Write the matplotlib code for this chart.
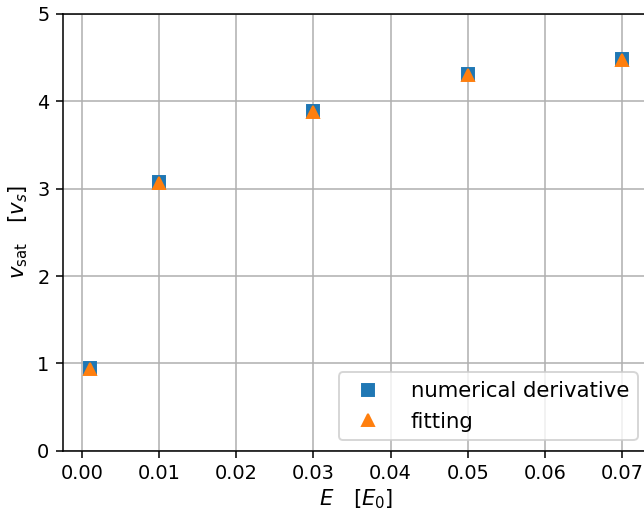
import matplotlib
matplotlib.use("Agg")
import matplotlib.pyplot as plt

E = [0.001, 0.01, 0.03, 0.05, 0.07]
v_num = [0.95, 3.08, 3.89, 4.31, 4.48]
v_fit = [0.94, 3.07, 3.88, 4.30, 4.47]

dpi = 139
fig = plt.figure(figsize=(645 / dpi, 510 / dpi), dpi=dpi)
ax = fig.add_axes([63 / 645, 1 - 450.7 / 510, (648.6 - 63) / 645, (450.7 - 14) / 510])

ax.plot(E, v_num, "s", color="tab:blue", label="numerical derivative")
ax.plot(E, v_fit, "^", color="tab:orange", label="fitting")

ax.set_ylim(0, 5)
ax.set_xticks([0.0, 0.01, 0.02, 0.03, 0.04, 0.05, 0.06, 0.07])
ax.set_xlabel(r"$E\quad[E_0]$", fontsize=11, labelpad=2)
ax.set_ylabel(r"$v_{\rm sat}\quad[v_s]$", fontsize=11)
ax.grid(True)
ax.legend(loc="lower right", bbox_to_anchor=(0.9995, 0), handletextpad=1.0,
          fontsize=11)

fig.savefig("out.png", dpi=dpi)
